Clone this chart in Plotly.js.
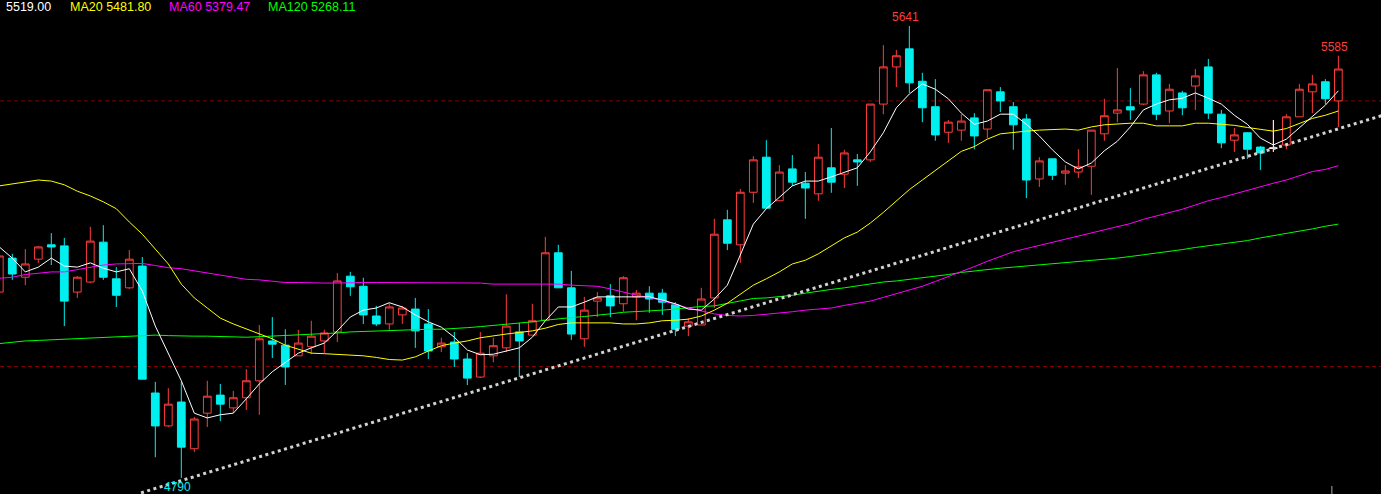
<!DOCTYPE html>
<html>
<head>
<meta charset="utf-8">
<script src="https://cdn.plot.ly/plotly-3.0.1.min.js"></script>
<style>html,body{margin:0;padding:0;background:#000;}#chart{width:1381px;height:494px;}</style>
</head>
<body>
<div id="chart"></div>
<script>
// candle index (first candle partially off the left edge)
const firstIndex = -1;
const open = [5140,5204,5168,5202,5229,5227,5140,5159,5234,5165,5148,5189,4950,4888,4933,4845,4912,4946,4922,4941,
  4973,5048,5040,5020,5037,5048,5065,5170,5151,5095,5080,5097,5108,5080,5037,5046,5014,4980,5020,5035,
  5065,5059,5087,5214,5148,5052,5123,5133,5118,5131,5138,5138,5116,5076,5078,5129,5276,5229,5328,5394,
  5312,5372,5345,5325,5374,5362,5389,5389,5494,5564,5598,5537,5489,5441,5445,5468,5447,5517,5489,5466,
  5353,5391,5364,5366,5377,5438,5477,5489,5494,5549,5481,5515,5528,5564,5475,5426,5440,5413,5411,5417,
  5470,5517,5536,5500];
const high = [5219,5212,5221,5227,5251,5242,5170,5263,5266,5187,5219,5206,4971,4959,4971,4905,4973,4967,4954,4995,
  5078,5093,5070,5069,5086,5069,5176,5178,5167,5114,5119,5114,5129,5108,5054,5065,5025,5065,5054,5136,
  5082,5118,5244,5229,5180,5131,5140,5155,5170,5144,5151,5146,5121,5091,5148,5278,5295,5334,5396,5426,
  5379,5398,5366,5419,5449,5408,5400,5494,5605,5596,5641,5553,5541,5464,5475,5477,5521,5526,5498,5475,
  5394,5391,5379,5409,5445,5504,5562,5524,5556,5553,5532,5519,5560,5579,5483,5449,5441,5415,5464,5475,
  5532,5549,5541,5585];
const low = [5134,5163,5153,5195,5191,5076,5129,5157,5163,5112,5146,4976,4829,4886,4790,4839,4886,4897,4912,4918,
  4909,5016,4965,5020,5023,5025,5046,5133,5080,5076,5069,5080,5035,5014,5027,4999,4965,4978,5008,5027,
  4980,5059,5087,5148,5050,5037,5093,5093,5103,5087,5101,5097,5057,5057,5078,5110,5219,5195,5308,5298,
  5312,5340,5278,5312,5327,5336,5340,5385,5475,5526,5515,5460,5425,5421,5425,5409,5430,5479,5408,5317,
  5338,5351,5342,5355,5323,5425,5460,5464,5492,5464,5458,5473,5483,5466,5411,5404,5391,5370,5404,5409,
  5470,5477,5494,5451];
const close = [5208,5174,5193,5225,5225,5123,5168,5236,5168,5134,5202,4976,4888,4929,4848,4901,4944,4929,4941,4973,
  5052,5042,4999,5044,5057,5063,5161,5150,5097,5080,5112,5110,5067,5029,5044,5014,4978,5025,5039,5076,
  5048,5086,5214,5148,5061,5106,5129,5114,5167,5138,5127,5121,5070,5084,5127,5249,5232,5328,5389,5298,
  5366,5347,5336,5394,5347,5402,5385,5494,5564,5585,5534,5487,5436,5460,5462,5434,5521,5500,5455,5351,
  5387,5360,5368,5376,5445,5472,5483,5483,5549,5475,5522,5487,5547,5477,5421,5436,5409,5402,5411,5470,
  5522,5532,5504,5560];

const ma5 = [5225,5204,5178,5187,5204,5189,5187,5195,5185,5178,5184,5142,5076,5024,4973,4912,4903,4909,4912,4939,
  4967,4990,5008,5025,5035,5044,5067,5093,5106,5110,5120,5112,5097,5084,5074,5055,5031,5022,5023,5029,
  5035,5055,5086,5112,5112,5121,5131,5131,5131,5131,5131,5125,5118,5108,5106,5127,5153,5210,5268,5297,
  5319,5340,5349,5349,5357,5366,5374,5404,5440,5487,5513,5532,5522,5504,5477,5456,5462,5475,5475,5456,
  5434,5408,5385,5372,5383,5406,5424,5451,5483,5494,5502,5505,5515,5505,5494,5473,5456,5430,5417,5428,
  5449,5470,5492,5519];
const ma20 = [5340,5344,5347,5351,5349,5342,5330,5321,5310,5297,5272,5249,5221,5193,5155,5129,5110,5091,5080,5071,
  5061,5052,5040,5033,5025,5024,5023,5022,5020,5017,5013,5012,5018,5029,5039,5044,5048,5054,5058,5061,
  5064,5067,5072,5079,5082,5082,5082,5082,5080,5080,5082,5086,5087,5089,5095,5106,5119,5136,5153,5165,
  5178,5193,5200,5212,5227,5242,5253,5270,5290,5312,5333,5351,5369,5388,5405,5414,5428,5438,5441,5443,
  5445,5446,5447,5445,5451,5455,5457,5458,5458,5453,5453,5453,5458,5458,5456,5454,5450,5447,5443,5448,
  5458,5467,5473,5481];
const ma60 = [5166,5168,5173,5176,5178,5178,5182,5187,5191,5193,5193,5194,5190,5186,5184,5180,5176,5171,5167,5164,
  5163,5161,5158,5158,5157,5157,5157,5158,5158,5158,5158,5158,5158,5158,5158,5158,5157,5157,5155,5155,
  5155,5155,5155,5155,5153,5152,5151,5146,5140,5134,5130,5124,5117,5110,5104,5099,5096,5095,5096,5098,
  5100,5103,5106,5108,5110,5115,5119,5123,5130,5137,5143,5151,5160,5169,5179,5188,5198,5207,5216,5222,
  5228,5233,5239,5245,5251,5258,5264,5269,5277,5283,5290,5296,5304,5312,5318,5325,5332,5339,5345,5351,
  5359,5367,5371,5378];
const ma120 = [5043,5046,5048,5049,5050,5051,5053,5054,5055,5056,5057,5058,5059,5058,5057,5057,5057,5056,5055,5055,
  5056,5057,5058,5059,5060,5061,5063,5065,5066,5067,5068,5069,5070,5070,5070,5071,5073,5075,5077,5079,
  5081,5084,5087,5090,5092,5094,5096,5099,5102,5103,5104,5106,5108,5111,5113,5114,5119,5124,5128,5129,
  5131,5134,5138,5142,5145,5148,5152,5156,5159,5161,5164,5167,5169,5173,5177,5180,5183,5185,5187,5189,
  5191,5193,5195,5197,5199,5201,5204,5207,5210,5214,5217,5220,5224,5227,5230,5233,5237,5242,5246,5250,
  5255,5259,5264,5268];

// hand-drawn support line (index, price)
const trendX = [9.9, 105.3];
const trendY = [4762, 5472];

const headerLabels = ['5519.00', 'MA20 5481.80', 'MA60 5379.47', 'MA120 5268.11'];
const levelLines = [5500, 5000];
const extremeLabels = [
  {text: '5641', index: 69, price: 5641, side: 'top'},
  {text: '5585', index: 102, price: 5585, side: 'top'},
  {text: '4790', index: 13, price: 4790, side: 'bottom'}
];

const RED = '#FF3C3C', CYAN = '#00F0F0';
const idx = open.map((_, i) => i + firstIndex);

const candles = {
  type: 'candlestick', x: idx, open: open, high: high, low: low, close: close,
  increasing: {line: {color: RED, width: 1}, fillcolor: '#000000'},
  decreasing: {line: {color: CYAN, width: 1}, fillcolor: CYAN},
  whiskerwidth: 0, hoverinfo: 'skip', showlegend: false
};
// flat candles (open == close) drawn white
const flat = idx.map((v, i) => i).filter(i => open[i] === close[i]);
const flatCandles = {
  type: 'candlestick', x: flat.map(i => idx[i]), open: flat.map(i => open[i]), high: flat.map(i => high[i]),
  low: flat.map(i => low[i]), close: flat.map(i => close[i]),
  increasing: {line: {color: '#FFFFFF', width: 1}, fillcolor: '#FFFFFF'},
  decreasing: {line: {color: '#FFFFFF', width: 1}, fillcolor: '#FFFFFF'},
  whiskerwidth: 0, hoverinfo: 'skip', showlegend: false
};
function maLine(y, color) {
  return {type: 'scatter', mode: 'lines', x: idx, y: y, line: {color: color, width: 1}, hoverinfo: 'skip', showlegend: false};
}
const trend = {type: 'scatter', mode: 'lines', x: trendX, y: trendY,
  line: {color: '#D2D2D2', width: 3, dash: '3px,3.5px'}, hoverinfo: 'skip', showlegend: false};

const headerColors = ['#FFFFFF', '#FFFF00', '#FF00FF', '#00FF00'];
const headerPx = [4, 68, 167, 266];
const annotations = headerLabels.map((t, i) => ({
  xref: 'paper', yref: 'paper', x: headerPx[i] / 1381, y: 1, xanchor: 'left', yanchor: 'top', yshift: 2,
  text: t, showarrow: false, font: {family: 'Liberation Sans, Arial, sans-serif', size: 12.5, color: headerColors[i]}
}));
extremeLabels.forEach(l => {
  annotations.push({
    xref: 'x', yref: 'y', x: l.index, y: l.price, xanchor: 'center',
    yanchor: l.side === 'top' ? 'bottom' : 'top', xshift: -3.5, yshift: 0,
    text: l.text, showarrow: false,
    font: {family: 'Liberation Sans, Arial, sans-serif', size: 12, color: l.side === 'top' ? RED : CYAN}
  });
});

const shapes = levelLines.map(v => ({
  type: 'line', xref: 'paper', yref: 'y', x0: 0, x1: 1, y0: v, y1: v,
  line: {color: 'rgb(140,0,0)', width: 1, dash: '4px,3px'}, layer: 'below'
}));
shapes.push({type: 'line', xref: 'x', yref: 'paper', x0: 101.5, x1: 101.5, y0: 0, y1: 8 / 494,
  line: {color: '#A8A8A8', width: 1}});

const layout = {
  width: 1381, height: 494,
  margin: {l: 0, r: 0, t: 0, b: 0, pad: 0},
  paper_bgcolor: '#000000', plot_bgcolor: '#000000',
  showlegend: false, boxgap: 0.15,
  xaxis: {range: [-0.946, 105.28], visible: false, rangeslider: {visible: false}, fixedrange: true},
  yaxis: {range: [4759.8, 5690], visible: false, fixedrange: true},
  annotations: annotations, shapes: shapes
};

Plotly.newPlot('chart', [candles, flatCandles, maLine(ma120, '#00FF00'), maLine(ma60, '#FF00FF'),
  maLine(ma20, '#FFFF00'), maLine(ma5, '#FFFFFF'), trend], layout, {staticPlot: true, displayModeBar: false});
</script>
</body>
</html>
